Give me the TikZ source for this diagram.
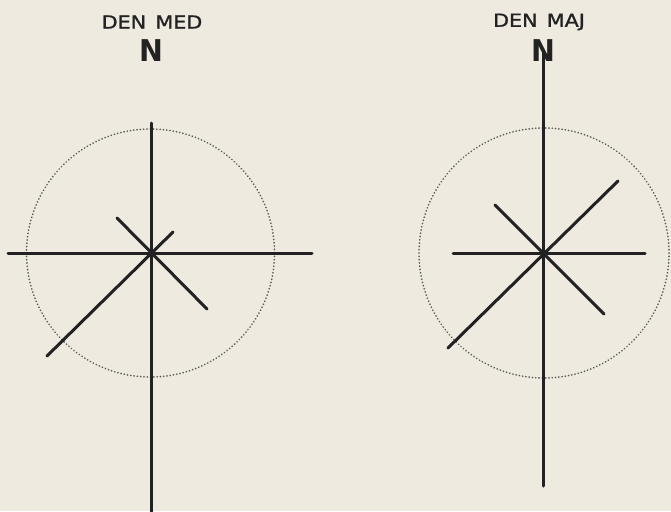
\documentclass[tikz,border=0pt]{standalone}
\usepackage{fontspec}
\setmainfont{DejaVu Sans}
\newfontfamily\titlefont[FakeBold=1.2]{DejaVu Sans}
\definecolor{paper}{HTML}{EEEAE0}
\definecolor{ink}{HTML}{222222}
\definecolor{dotc}{HTML}{5A5A5A}
\begin{document}
\begin{tikzpicture}[x=1pt,y=-1pt,
  axis/.style={draw=ink,line width=3pt,line cap=round},
  ring/.style={draw=dotc,line width=1.8pt,dash pattern=on 0.1pt off 3.2pt,line cap=round},
  title/.style={text=ink,font=\titlefont\fontsize{18}{20}\selectfont,xscale=1.15,inner sep=0pt},
  north/.style={text=ink,font=\bfseries\fontsize{30}{32}\selectfont,xscale=0.95,inner sep=0pt}]
\fill[paper] (0,0) rectangle (671,511);
\useasboundingbox (0,0) rectangle (671,511);
% left
\coordinate (c1) at (151,253);
\node[title] (t1) at (152,22) {DEN\hspace{8pt}MED};
\node[north] (n1) at (151,51) {N};
\coordinate (v1t) at (151,123);
\coordinate (v1b) at (151,515);
\coordinate (h1l) at (8,253);
\coordinate (h1r) at (312,253);
\coordinate (d1sw) at (47,356);
\coordinate (d1ne) at (173,232);
\coordinate (d1nw) at (117,218);
\coordinate (d1se) at (207,309);
\draw[ring] (150.5,253) circle (124);
\draw[axis] (v1t) -- (v1b);
\draw[axis] (h1l) -- (h1r);
\draw[axis] (d1sw) -- (d1ne);
\draw[axis] (d1nw) -- (d1se);
% right
\coordinate (c2) at (544,253);
\node[title] (t2) at (539,22) {DEN\hspace{8pt}MAJ};
\node[north] (n2) at (543,51) {N};
\coordinate (v2t) at (543,50);
\coordinate (v2b) at (543,486);
\coordinate (h2l) at (453,253);
\coordinate (h2r) at (645,253);
\coordinate (d2sw) at (448,348);
\coordinate (d2ne) at (618,181);
\coordinate (d2nw) at (495,205);
\coordinate (d2se) at (604,314);
\draw[ring] (544,253) circle (125);
\draw[axis] (v2t) -- (v2b);
\draw[axis] (h2l) -- (h2r);
\draw[axis] (d2sw) -- (d2ne);
\draw[axis] (d2nw) -- (d2se);
\end{tikzpicture}
\end{document}
